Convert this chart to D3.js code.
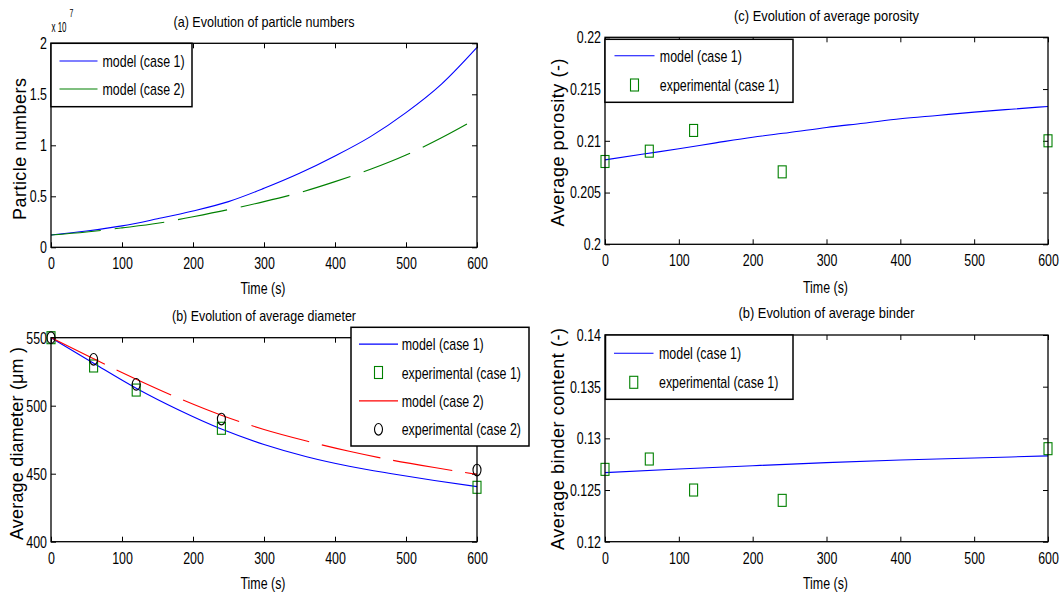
<!DOCTYPE html>
<html><head><meta charset="utf-8">
<script src="https://cdn.jsdelivr.net/npm/d3@7"></script>
<style>
body{margin:0;background:#fff}
svg{display:block}
text{font-family:"Liberation Sans",Arial,Helvetica,sans-serif;fill:#000}
</style>
</head><body>
<svg id="c" width="1061" height="596"></svg>
<script>
// ---------------- data ----------------
const timeTicks = [0, 100, 200, 300, 400, 500, 600];

// (a) particle numbers (x 10^7)
const timeA = [0, 50, 100, 150, 200, 250, 300, 350, 400, 450, 500, 550, 600];
const particlesCase1 = [0.12, 0.16, 0.21, 0.28, 0.356, 0.448, 0.578, 0.725, 0.895, 1.085, 1.32, 1.60, 1.96];
const particlesCase2 = [0.12, 0.15, 0.19, 0.235, 0.30, 0.37, 0.448, 0.536, 0.644, 0.765, 0.905, 1.075, 1.265];
const yTicksA = [0, 0.5, 1, 1.5, 2];

// (b) average diameter (um)
const timeB = [0, 60, 120, 180, 240, 300, 360, 420, 480, 540, 600];
const diameterCase1 = [550, 531.2, 512.8, 496.8, 482.8, 471.5, 462.5, 455.5, 450, 445, 440.5];
const diameterCase2 = [550, 534.5, 519.5, 505.5, 493, 482.5, 474, 466.5, 460, 454.5, 449.5];
const expTime = [0, 60, 120, 240, 600];
const expDiameterCase1 = [550, 529.2, 511.5, 483.4, 440];
const expDiameterCase2 = [550, 534.1, 515.7, 490.2, 452.7];
const yTicksB = [400, 450, 500, 550];

// (c) average porosity
const timeC = [0, 50, 100, 150, 200, 250, 300, 350, 400, 450, 500, 550, 600];
const porosityCase1 = [0.20816, 0.2087, 0.20923, 0.2098, 0.21035, 0.2108, 0.21129, 0.2117, 0.21213, 0.21245, 0.21277, 0.21305, 0.21332];
const expPorosity = [0.208, 0.209, 0.211, 0.207, 0.210];
const yTicksC = [0.2, 0.205, 0.21, 0.215, 0.22];

// (d) average binder content
const timeD = [0, 100, 200, 300, 400, 500, 600];
const binderCase1 = [0.12668, 0.12703, 0.12735, 0.12765, 0.1279, 0.1281, 0.1283];
const expBinder = [0.127, 0.128, 0.125, 0.124, 0.129];
const yTicksD = [0.12, 0.125, 0.13, 0.135, 0.14];

// ---------------- drawing ----------------
const BLUE = "#0000ff", GREEN = "#008000", RED = "#ff0000";
const SX = 0.73;
const svg = d3.select("#c");
const fmt = d => String(+(+d).toFixed(4));

function fitText(x, y, str, size, len, rotate, adjust) {
  return svg.append("text")
    .attr("transform", `translate(${x},${y})` + (rotate ? ` rotate(${rotate})` : ""))
    .attr("text-anchor", "middle")
    .attr("font-size", size)
    .attr("textLength", len)
    .attr("lengthAdjust", adjust || "spacingAndGlyphs")
    .text(str);
}

function panel(p) {
  const x = d3.scaleLinear().domain([0, 600]).range([p.x0, p.x1]);
  const y = d3.scaleLinear().domain(p.yDomain).range([p.y1, p.y0]);
  const g = svg.append("g");

  const styleTicks = sel => {
    sel.select(".domain").remove();
    sel.selectAll(".tick line").attr("stroke", "#000").attr("stroke-width", 1);
    sel.selectAll(".tick text")
      .attr("font-size", 17)
      .attr("font-family", '"Liberation Sans",Arial,sans-serif')
      .attr("fill", "#000")
      .attr("transform", `scale(${SX},1)`);
  };
  g.append("g").attr("transform", `translate(0,${p.y1})`)
    .call(d3.axisBottom(x).tickValues(timeTicks).tickSizeInner(-5).tickSizeOuter(0).tickPadding(10).tickFormat(fmt))
    .call(styleTicks);
  g.append("g").attr("transform", `translate(0,${p.y0})`)
    .call(d3.axisTop(x).tickValues(timeTicks).tickSizeInner(-5).tickSizeOuter(0).tickFormat(""))
    .call(styleTicks);
  g.append("g").attr("transform", `translate(${p.x0},0)`)
    .call(d3.axisLeft(y).tickValues(p.yTicks).tickSizeInner(-5).tickSizeOuter(0).tickPadding(5.5).tickFormat(fmt))
    .call(styleTicks);
  g.append("g").attr("transform", `translate(${p.x1},0)`)
    .call(d3.axisRight(y).tickValues(p.yTicks).tickSizeInner(-5).tickSizeOuter(0).tickFormat(""))
    .call(styleTicks);

  // series
  p.series.forEach(s => {
    if (s.type === "line") {
      const line = d3.line().x((d, i) => x(s.t[i])).y(d => y(d)).curve(d3.curveMonotoneX);
      g.append("path").attr("d", line(s.v)).attr("fill", "none")
        .attr("stroke", s.color).attr("stroke-width", 1.1)
        .attr("stroke-dasharray", s.dash || null);
    } else {
      s.v.forEach((v, i) => drawMarker(g, s.type, x(s.t[i]), y(v), s.color));
    }
  });

  // box
  g.append("rect").attr("x", p.x0).attr("y", p.y0)
    .attr("width", p.x1 - p.x0).attr("height", p.y1 - p.y0)
    .attr("fill", "none").attr("stroke", "#000").attr("stroke-width", 1.3);

  // legend
  const L = p.legend;
  g.append("rect").attr("x", L.x).attr("y", L.y).attr("width", L.w).attr("height", L.h)
    .attr("fill", "#fff").attr("stroke", "#000").attr("stroke-width", 1.5);
  p.series.forEach((s, i) => {
    const ry = L.y + L.first + i * L.step;
    if (s.type === "line") {
      g.append("line").attr("x1", L.x + L.l0).attr("x2", L.x + L.l1).attr("y1", ry).attr("y2", ry)
        .attr("stroke", s.color).attr("stroke-width", 1.1);
    } else {
      drawMarker(g, s.type, L.x + (L.l0 + L.l1) / 2, ry, s.color);
    }
    g.append("text").attr("transform", `translate(${L.x + L.tx},${ry}) scale(${SX},1)`)
      .attr("dy", "0.36em").attr("font-size", 17).text(s.label);
  });

  // titles and axis labels
  fitText((p.x0 + p.x1) / 2, p.titleY, p.title, 15, p.titleLen);
  fitText((p.x0 + p.x1) / 2 - 1, p.xLabelY, "Time (s)", 17, 45);
  fitText(p.yLabelX, p.yLabelC, p.yLabel, 18, p.yLabelLen, -90, "spacing");
}

function drawMarker(g, type, cx, cy, color) {
  if (type === "square") {
    g.append("rect").attr("x", cx - 4).attr("y", cy - 6).attr("width", 8).attr("height", 12)
      .attr("fill", "none").attr("stroke", color).attr("stroke-width", 1.1);
  } else {
    g.append("ellipse").attr("cx", cx).attr("cy", cy).attr("rx", 4).attr("ry", 5.8)
      .attr("fill", "none").attr("stroke", color).attr("stroke-width", 1.1);
  }
}

// (a)
panel({
  x0: 51, x1: 477, y0: 43.3, y1: 247.3, yDomain: [0, 2], yTicks: yTicksA,
  series: [
    {type: "line", t: timeA, v: particlesCase1, color: BLUE, label: "model (case 1)"},
    {type: "line", t: timeA, v: particlesCase2, color: GREEN, dash: "50,14", label: "model (case 2)"}
  ],
  legend: {x: 51, y: 43.3, w: 141, h: 63.4, first: 17.7, step: 28, l0: 8.5, l1: 46.5, tx: 51.5},
  title: "(a) Evolution of particle numbers", titleY: 27.3, titleLen: 181,
  xLabelY: 293.5, yLabel: "Particle numbers", yLabelX: 26, yLabelC: 149, yLabelLen: 142
});
// multiplier
svg.append("text").attr("x", 51.5).attr("y", 32).attr("font-size", 15)
  .attr("textLength", 15).attr("lengthAdjust", "spacingAndGlyphs").text("x 10");
svg.append("text").attr("transform", "translate(69.5,17) scale(0.7,1)").attr("font-size", 10).text("7");

// (b)
panel({
  x0: 51, x1: 477, y0: 337.7, y1: 541.7, yDomain: [400, 550], yTicks: yTicksB,
  series: [
    {type: "line", t: timeB, v: diameterCase1, color: BLUE, label: "model (case 1)"},
    {type: "square", t: expTime, v: expDiameterCase1, color: GREEN, label: "experimental (case 1)"},
    {type: "line", t: timeB, v: diameterCase2, color: RED, dash: "60,13", label: "model (case 2)"},
    {type: "circle", t: expTime, v: expDiameterCase2, color: "#000", label: "experimental (case 2)"}
  ],
  legend: {x: 351, y: 327.3, w: 178, h: 118.7, first: 16.8, step: 28.4, l0: 8, l1: 47, tx: 50.7},
  title: "(b) Evolution of average diameter", titleY: 321, titleLen: 184,
  xLabelY: 588.5, yLabel: "Average diameter (\u03bcm )", yLabelX: 23, yLabelC: 443.5, yLabelLen: 193
});

// (c)
panel({
  x0: 605, x1: 1048, y0: 37.3, y1: 244.3, yDomain: [0.2, 0.22], yTicks: yTicksC,
  series: [
    {type: "line", t: timeC, v: porosityCase1, color: BLUE, label: "model (case 1)"},
    {type: "square", t: expTime, v: expPorosity, color: GREEN, label: "experimental (case 1)"}
  ],
  legend: {x: 605, y: 39.3, w: 188, h: 63, first: 16.4, step: 29.3, l0: 9.5, l1: 49.5, tx: 54.8},
  title: "(c) Evolution of average porosity", titleY: 21, titleLen: 185,
  xLabelY: 292.5, yLabel: "Average porosity  (-)", yLabelX: 564, yLabelC: 142.5, yLabelLen: 168
});

// (d)
panel({
  x0: 605, x1: 1048, y0: 335, y1: 541.7, yDomain: [0.12, 0.14], yTicks: yTicksD,
  series: [
    {type: "line", t: timeD, v: binderCase1, color: BLUE, label: "model (case 1)"},
    {type: "square", t: expTime, v: expBinder, color: GREEN, label: "experimental (case 1)"}
  ],
  legend: {x: 605.5, y: 335, w: 187.5, h: 64.3, first: 18.3, step: 29, l0: 8.5, l1: 48, tx: 53.5},
  title: "(b) Evolution of average binder", titleY: 318.3, titleLen: 176,
  xLabelY: 588.5, yLabel: "Average binder content (-)", yLabelX: 564, yLabelC: 439, yLabelLen: 222
});
</script>
</body></html>
